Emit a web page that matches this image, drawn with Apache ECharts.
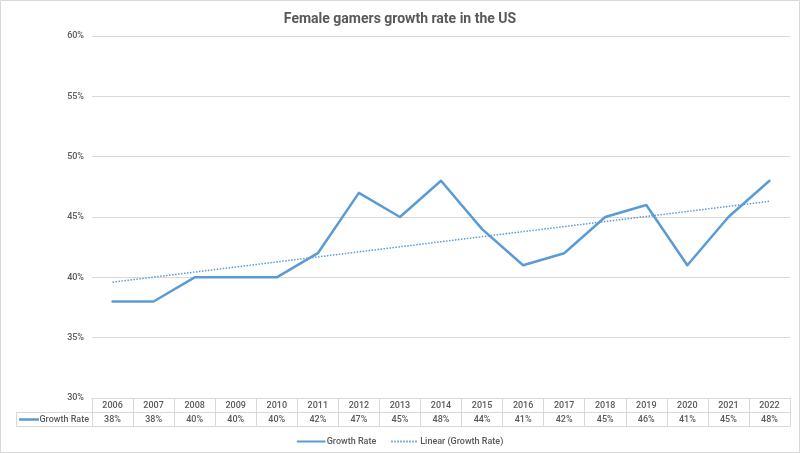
<!DOCTYPE html>
<html>
<head>
<meta charset="utf-8">
<script src="https://cdn.jsdelivr.net/npm/echarts@6/dist/echarts.min.js"></script>
<style>html,body{margin:0;padding:0;background:#fff}#main{width:800px;height:453px}</style>
</head>
<body>
<div id="main"></div>
<script>
const years = ['2006','2007','2008','2009','2010','2011','2012','2013','2014','2015','2016','2017','2018','2019','2020','2021','2022'];
const growthRate = [38,38,40,40,40,42,47,45,48,44,41,42,45,46,41,45,48];
const trendEnds = [39.6, 46.3];
const yTicks = [30,35,40,45,50,55,60];

const chart = echarts.init(document.getElementById('main'), null, {renderer:'canvas'});
const grey = '#d9d9d9';
const txt = '#595959';
const font = 'Roboto';
const blue = '#5b9bd5';
const fs = 9, fw = 500;

const L = 92, R = 10, T = 36, B = 55;
const tableTop = 453 - B;

chart.setOption({
  backgroundColor: '#fff',
  animation: false,
  title: {
    text: 'Female gamers growth rate in the US',
    left: 'center', top: 7,
    textStyle: {fontFamily: font, fontSize: 14, fontWeight: 'bold', color: txt}
  },
  legend: {
    top: 432, left: 'center',
    itemWidth: 27, itemHeight: 8, itemGap: 14,
    itemStyle: {opacity: 0},
    textStyle: {fontFamily: font, fontSize: fs, fontWeight: fw, color: txt, padding: [0,0,0,-3]},
    data: ['Growth Rate', 'Linear (Growth Rate)']
  },
  grid: {left: L, right: R, top: T, bottom: B, containLabel: false},
  xAxis: [
    {
      type: 'category', data: years, position: 'bottom', boundaryGap: true,
      axisLine: {show: true, lineStyle: {color: grey, width: 1}},
      axisTick: {show: true, inside: false, length: 28, lineStyle: {color: grey}},
      axisLabel: {fontFamily: font, fontSize: fs, fontWeight: fw, color: txt, margin: 3, interval: 0}
    },
    {
      type: 'category', data: years, position: 'bottom', offset: 14, boundaryGap: true,
      axisLine: {show: true, lineStyle: {color: grey, width: 1}},
      axisTick: {show: false},
      axisLabel: {fontFamily: font, fontSize: fs, fontWeight: fw, color: txt, margin: 3, interval: 0,
        formatter: (v, i) => growthRate[i] + '%'}
    },
    {
      type: 'category', data: years, position: 'bottom', offset: 28, boundaryGap: true,
      axisLine: {show: true, lineStyle: {color: grey, width: 1}},
      axisTick: {show: false}, axisLabel: {show: false}
    }
  ],
  yAxis: {
    type: 'value', min: yTicks[0], max: yTicks[yTicks.length-1], interval: 5,
    axisLine: {show: false}, axisTick: {show: false},
    axisLabel: {fontFamily: font, fontSize: fs, fontWeight: fw, color: txt, margin: 8, formatter: v => v + '%'},
    splitLine: {lineStyle: {color: grey, width: 1}}
  },
  series: [
    {
      name: 'Growth Rate', type: 'line', data: growthRate,
      showSymbol: false, symbol: 'none',
      lineStyle: {color: blue, width: 2.5, join: 'round', cap: 'round'},
      itemStyle: {color: blue}
    },
    {
      name: 'Linear (Growth Rate)', type: 'line',
      data: [[years[0], trendEnds[0]], [years[years.length-1], trendEnds[1]]],
      showSymbol: false, symbol: 'none',
      lineStyle: {color: blue, width: 1.5, type: [1.5, 1.5]},
      itemStyle: {color: blue}
    }
  ],
  graphic: [
    {type: 'rect', shape: {x: 0.5, y: 0.5, width: 799, height: 452}, style: {fill: 'none', stroke: grey, lineWidth: 1}, silent: true},
    {type: 'line', shape: {x1: 16, y1: tableTop + 14.5, x2: L, y2: tableTop + 14.5}, style: {stroke: grey, lineWidth: 1}},
    {type: 'line', shape: {x1: 16, y1: tableTop + 28.5, x2: L, y2: tableTop + 28.5}, style: {stroke: grey, lineWidth: 1}},
    {type: 'line', shape: {x1: 16.5, y1: tableTop + 14.5, x2: 16.5, y2: tableTop + 28.5}, style: {stroke: grey, lineWidth: 1}},
    {type: 'line', shape: {x1: 19, y1: tableTop + 21.5, x2: 39, y2: tableTop + 21.5}, style: {stroke: blue, lineWidth: 2.5}},
    {type: 'text', x: 89, y: tableTop + 21.5, style: {text: 'Growth Rate', fontFamily: font, fontSize: fs, fontWeight: fw, fill: txt, textAlign: 'right', textVerticalAlign: 'middle'}}
  ]
});
</script>
</body>
</html>
